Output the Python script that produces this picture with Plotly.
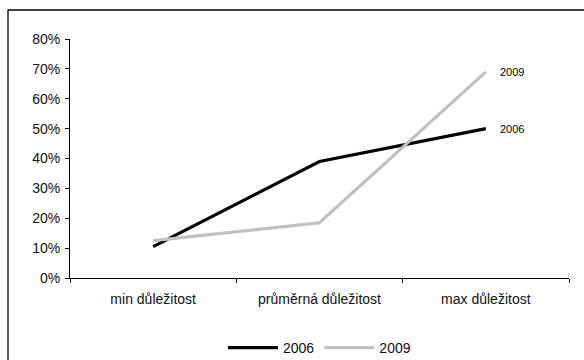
import plotly.graph_objects as go

categories = ["min důležitost", "průměrná důležitost", "max důležitost"]
values_2006 = [0.105, 0.39, 0.50]
values_2009 = [0.125, 0.185, 0.69]
series_names = ["2006", "2009"]
y_ticks = [0, 0.1, 0.2, 0.3, 0.4, 0.5, 0.6, 0.7, 0.8]

W, H = 584, 360
ML, MR, MT, MB = 70, 15, 39, 82
plot_w = W - ML - MR
plot_h = H - MT - MB

font_family = "Liberation Sans, Arial, sans-serif"

fig = go.Figure()
fig.add_trace(go.Scatter(
    x=categories, y=values_2006, name=series_names[0], mode="lines",
    line=dict(color="black", width=3.2),
))
fig.add_trace(go.Scatter(
    x=categories, y=values_2009, name=series_names[1], mode="lines",
    line=dict(color="#c0c0c0", width=3.2),
))

# End-of-line series labels
for name, vals in zip(series_names, [values_2006, values_2009]):
    fig.add_annotation(
        x=categories[-1], y=vals[-1], text=name, showarrow=False,
        xanchor="left", yanchor="middle", xshift=12,
        font=dict(size=11, color="black", family=font_family),
    )

# Outer chart frame (its right and bottom edges run past the page)
fig.add_shape(
    type="rect", xref="paper", yref="paper",
    x0=(8 - ML) / plot_w, x1=1.3,
    y0=-0.6, y1=(H - MB - 10) / plot_h,
    line=dict(color="black", width=1.3), fillcolor="rgba(0,0,0,0)",
    layer="below",
)

fig.update_layout(
    width=W, height=H,
    margin=dict(l=ML, r=MR, t=MT, b=MB, autoexpand=False),
    paper_bgcolor="white", plot_bgcolor="white",
    font=dict(family=font_family, size=14, color="#111111"),
    showlegend=True,
    legend=dict(
        orientation="h", x=0.5, xanchor="center",
        y=-(348 - (H - MB)) / plot_h, yanchor="middle",
        font=dict(size=14), itemwidth=50, tracegroupgap=0,
    ),
    xaxis=dict(
        type="category", range=[-0.5, 2.5],
        showline=True, linecolor="black", linewidth=1,
        ticks="outside", tickson="boundaries", ticklen=4, tickcolor="black",
        ticklabelstandoff=8,
        showgrid=False, zeroline=False,
        tickfont=dict(size=14),
    ),
    yaxis=dict(
        range=[0, 0.8], tickvals=y_ticks, tickformat=".0%",
        showline=True, linecolor="black", linewidth=1,
        ticks="outside", ticklen=4, tickcolor="black",
        ticklabelstandoff=2,
        showgrid=False, zeroline=False,
        tickfont=dict(size=14),
    ),
)

fig.write_html("out.html")
